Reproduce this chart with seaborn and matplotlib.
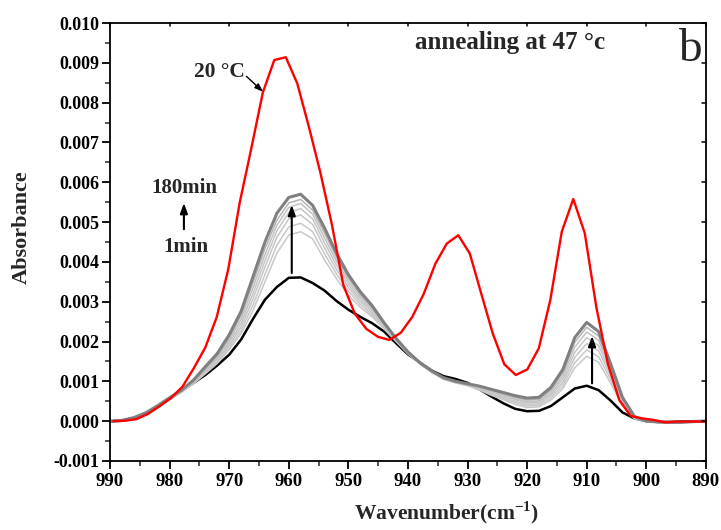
import numpy as np
import pandas as pd
import matplotlib
matplotlib.use("Agg")
import matplotlib.pyplot as plt
from matplotlib.ticker import MultipleLocator, FormatStrFormatter
import seaborn as sns

# wavenumber grid of the annealing spectra (cm-1)
wn = [990, 988, 986, 984, 982, 980, 978, 976, 974, 972, 970, 968, 966, 964, 962,
      960, 958, 956, 954, 952, 950, 948, 946, 944, 942, 940, 938, 936, 934, 932,
      930, 928, 926, 924, 922, 920, 918, 916, 914, 912, 910, 908, 906, 904, 902,
      900, 898, 896, 894, 892, 890]

# absorbance x 1000
abs_1min = [0.00, 0.01, 0.08, 0.19, 0.36, 0.56, 0.75, 0.96, 1.16, 1.40, 1.67, 2.05, 2.57, 3.05, 3.37,
            3.60, 3.61, 3.47, 3.28, 3.02, 2.80, 2.62, 2.46, 2.25, 1.96, 1.68, 1.47, 1.27, 1.13, 1.06,
            0.96, 0.80, 0.62, 0.45, 0.31, 0.25, 0.26, 0.38, 0.60, 0.82, 0.89, 0.78, 0.52, 0.22, 0.07,
            0.00, -0.02, -0.02, -0.01, 0.00, 0.00]

abs_mid = [
    [0.00, 0.02, 0.09, 0.21, 0.38, 0.58, 0.77, 1.01, 1.33, 1.64, 2.09, 2.66, 3.48, 4.33, 5.05,
     5.48, 5.57, 5.30, 4.72, 4.12, 3.60, 3.18, 2.85, 2.45, 2.07, 1.74, 1.47, 1.26, 1.09, 1.00,
     0.94, 0.87, 0.78, 0.69, 0.60, 0.53, 0.55, 0.79, 1.22, 1.98, 2.36, 2.14, 1.37, 0.56, 0.11,
     0.00, -0.02, -0.03, -0.03, -0.01, 0.00],
    [0.00, 0.02, 0.09, 0.21, 0.38, 0.58, 0.76, 0.99, 1.30, 1.60, 2.03, 2.56, 3.35, 4.18, 4.92,
     5.37, 5.47, 5.20, 4.60, 4.02, 3.52, 3.12, 2.81, 2.43, 2.06, 1.73, 1.47, 1.26, 1.09, 1.00,
     0.93, 0.86, 0.76, 0.66, 0.57, 0.49, 0.51, 0.74, 1.14, 1.86, 2.24, 2.03, 1.30, 0.53, 0.10,
     0.00, -0.02, -0.03, -0.03, -0.01, 0.00],
    [0.00, 0.02, 0.09, 0.21, 0.38, 0.57, 0.75, 0.98, 1.27, 1.56, 1.97, 2.46, 3.21, 4.03, 4.78,
     5.24, 5.34, 5.08, 4.48, 3.92, 3.44, 3.06, 2.77, 2.41, 2.05, 1.72, 1.46, 1.25, 1.08, 0.99,
     0.92, 0.84, 0.74, 0.63, 0.54, 0.46, 0.48, 0.69, 1.06, 1.73, 2.10, 1.90, 1.22, 0.50, 0.09,
     -0.01, -0.02, -0.03, -0.03, -0.01, 0.00],
    [0.00, 0.02, 0.09, 0.20, 0.37, 0.57, 0.74, 0.96, 1.24, 1.52, 1.91, 2.37, 3.07, 3.87, 4.62,
     5.08, 5.18, 4.94, 4.35, 3.81, 3.36, 3.00, 2.72, 2.38, 2.03, 1.71, 1.45, 1.24, 1.07, 0.98,
     0.91, 0.82, 0.71, 0.60, 0.50, 0.42, 0.44, 0.64, 0.98, 1.60, 1.95, 1.77, 1.14, 0.47, 0.08,
     -0.01, -0.03, -0.03, -0.03, -0.01, 0.00],
    [0.00, 0.02, 0.09, 0.20, 0.37, 0.56, 0.73, 0.95, 1.21, 1.48, 1.85, 2.28, 2.92, 3.68, 4.42,
     4.88, 4.97, 4.76, 4.20, 3.70, 3.27, 2.93, 2.67, 2.35, 2.02, 1.70, 1.44, 1.23, 1.06, 0.97,
     0.90, 0.80, 0.68, 0.57, 0.46, 0.38, 0.40, 0.58, 0.90, 1.47, 1.79, 1.62, 1.05, 0.43, 0.07,
     -0.01, -0.03, -0.04, -0.03, -0.01, 0.00],
    [0.00, 0.02, 0.09, 0.20, 0.37, 0.56, 0.73, 0.94, 1.19, 1.45, 1.80, 2.20, 2.78, 3.50, 4.22,
     4.67, 4.76, 4.58, 4.05, 3.58, 3.17, 2.86, 2.62, 2.32, 2.00, 1.69, 1.43, 1.22, 1.05, 0.96,
     0.89, 0.78, 0.65, 0.54, 0.42, 0.34, 0.36, 0.53, 0.82, 1.34, 1.63, 1.48, 0.96, 0.40, 0.06,
     -0.01, -0.03, -0.04, -0.03, -0.01, 0.00],
]
mid_colors = ['#b4b4b4', '#c2c2c2', '#c6c6c6', '#c6c6c6', '#c8c8c8', '#c8c8c8']

abs_180min = [0.00, 0.02, 0.09, 0.21, 0.39, 0.59, 0.78, 1.03, 1.37, 1.70, 2.17, 2.76, 3.63, 4.50, 5.22,
              5.62, 5.70, 5.42, 4.85, 4.22, 3.68, 3.25, 2.90, 2.47, 2.08, 1.74, 1.47, 1.26, 1.09, 1.00,
              0.94, 0.88, 0.80, 0.72, 0.64, 0.58, 0.60, 0.85, 1.30, 2.10, 2.48, 2.25, 1.45, 0.60, 0.12,
              0.00, -0.02, -0.03, -0.03, -0.01, 0.00]

# spectrum at 20 C (coarser sampling)
wn_20c = [989.45, 987.52, 985.59, 983.66, 981.73, 979.80, 977.87, 975.94, 974.01, 972.08,
          970.15, 968.22, 966.29, 964.36, 962.43, 960.50, 958.57, 956.64, 954.71, 952.78,
          950.85, 948.92, 946.99, 945.06, 943.13, 941.20, 939.27, 937.34, 935.41, 933.48,
          931.55, 929.62, 927.69, 925.76, 923.83, 921.90, 919.97, 918.04, 916.11, 914.18,
          912.25, 910.32, 908.39, 906.46, 904.53, 902.60, 900.67, 898.74, 896.81, 894.88,
          892.95, 891.02, 889.09]
abs_20c = [0.00, 0.01, 0.05, 0.18, 0.37, 0.58, 0.86, 1.33, 1.85, 2.62,
           3.82, 5.50, 6.85, 8.25, 9.07, 9.14, 8.48, 7.40, 6.25, 4.95,
           3.42, 2.70, 2.32, 2.12, 2.04, 2.22, 2.62, 3.20, 3.95, 4.46,
           4.67, 4.21, 3.20, 2.20, 1.43, 1.16, 1.30, 1.83, 3.04, 4.76,
           5.58, 4.72, 2.87, 1.45, 0.53, 0.13, 0.07, 0.03, -0.03, -0.01,
           -0.01, -0.01, -0.01]

sns.set_style("ticks")
plt.rcParams['font.family'] = ['Liberation Serif', 'DejaVu Serif']
plt.rcParams['font.weight'] = 'bold'
plt.rcParams['axes.unicode_minus'] = False
plt.rcParams['mathtext.fontset'] = 'custom'
plt.rcParams['mathtext.rm'] = 'Liberation Serif:bold'
plt.rcParams['mathtext.bf'] = 'Liberation Serif:bold'

fig = plt.figure(figsize=(7.21, 5.30), dpi=100)
ax = fig.add_axes([0.1526, 0.1302, 0.979 - 0.1526, 0.9566 - 0.1302])

wn_arr = np.array(wn)
sns.lineplot(x=wn_arr, y=np.array(abs_1min) / 1000, ax=ax, color='black', lw=1.8,
             estimator=None, sort=False)
for vals, c in zip(abs_mid[::-1], mid_colors[::-1]):
    sns.lineplot(x=wn_arr, y=np.array(vals) / 1000, ax=ax, color=c, lw=1.1,
                 estimator=None, sort=False)
sns.lineplot(x=wn_arr, y=np.array(abs_180min) / 1000, ax=ax, color='#808080', lw=2.2,
             estimator=None, sort=False)
sns.lineplot(x=np.array(wn_20c), y=np.array(abs_20c) / 1000, ax=ax, color='#ff0000', lw=1.7,
             estimator=None, sort=False)

ax.set_xlim(990, 890)
ax.set_ylim(-0.001, 0.010)
ax.xaxis.set_major_locator(MultipleLocator(10))
ax.xaxis.set_minor_locator(MultipleLocator(5))
ax.yaxis.set_major_locator(MultipleLocator(0.001))
ax.yaxis.set_minor_locator(MultipleLocator(0.0005))
ax.yaxis.set_major_formatter(FormatStrFormatter('%.3f'))

for s in ax.spines.values():
    s.set_linewidth(1.3)
    s.set_color('black')
ax.tick_params(which='major', direction='out', length=6, width=1.3, bottom=True, left=True,
               top=False, right=False, colors='black')
ax.tick_params(which='minor', direction='out', length=3.5, width=1.1, bottom=True, left=True,
               top=False, right=False)
ax.tick_params(axis='x', labelsize=13.5, pad=3)
ax.tick_params(axis='y', labelsize=13, pad=2)
for lab in ax.get_xticklabels() + ax.get_yticklabels():
    lab.set_fontweight('bold')

# inward ticks on top and right
for t in ax.get_xticks():
    if 890 <= t <= 990:
        ax.plot([t, t], [0.010, 0.010 - 0.00008], color='black', lw=1.1, clip_on=False)
for t in ax.get_yticks():
    if -0.001 <= t <= 0.010:
        ax.plot([890, 890 + 0.7], [t, t], color='black', lw=1.1, clip_on=False)

ax.set_xlabel('')
ax.set_ylabel('')
fig.text(447 / 721, 1 - 513 / 530, 'Wavenumber(cm$^{-1}$)', fontsize=15.5, fontweight='bold',
         ha='center', va='center')
fig.text(22 / 721, 1 - 227 / 530, 'Absorbance', fontsize=16, fontweight='bold',
         rotation=90, ha='center', va='center')

arrow = dict(arrowstyle='-|>,head_length=0.6,head_width=0.22', color='black', lw=1.5,
             shrinkA=0, shrinkB=0)
ax.annotate('', xy=(959.5, 0.00543), xytext=(959.5, 0.00372), arrowprops=arrow)
ax.annotate('', xy=(909.1, 0.00214), xytext=(909.1, 0.00095), arrowprops=arrow)
ax.annotate('', xy=(977.6, 0.00548), xytext=(977.6, 0.00482), arrowprops=arrow)
ax.annotate('', xy=(964.3, 0.00827), xytext=(967.1, 0.00866),
            arrowprops=dict(arrowstyle='-|>,head_length=0.5,head_width=0.18', color='black',
                            lw=1.0, shrinkA=0, shrinkB=0))

ax.text(967.4, 0.00877, '20 °C', fontsize=15.5, fontweight='bold', ha='right', va='center')
ax.text(977.6, 0.00585, '180min', fontsize=15, fontweight='bold', ha='center', va='center')
ax.text(977.2, 0.00437, '1min', fontsize=15, fontweight='bold', ha='center', va='center')
ax.text(922.9, 0.0095, 'annealing at 47 °c', fontsize=18, fontweight='bold',
        ha='center', va='center')
ax.text(892.7, 0.00932, 'b', fontsize=34, fontweight='normal', ha='center', va='center')

fig.savefig('out.png', dpi=100)
